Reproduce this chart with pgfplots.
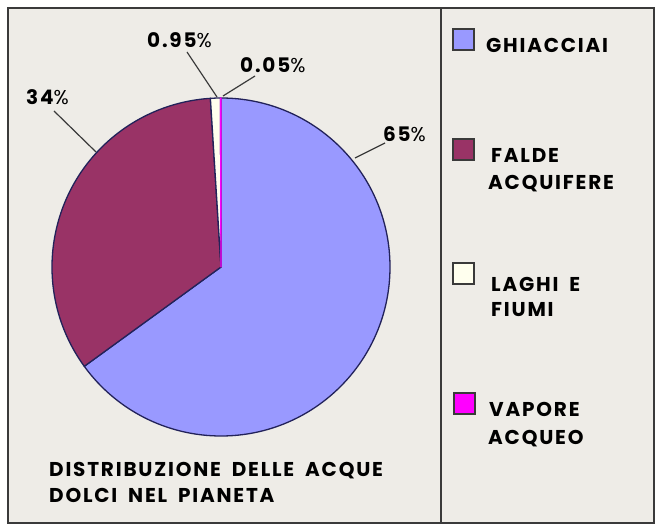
\documentclass[border=0pt]{standalone}
\usepackage{fontspec}
\setmainfont{Poppins}
\newfontfamily\lab[LetterSpace=9,WordSpace=1.8]{Poppins}
\usepackage{pgfplots}
\usepackage{pgfplotstable}
\pgfplotsset{compat=1.18}
\definecolor{bg}{HTML}{EEECE7}
\definecolor{ghi}{HTML}{9999FF}
\definecolor{falde}{HTML}{993366}
\definecolor{laghi}{HTML}{FFFFEE}
\definecolor{vapore}{HTML}{FF00FF}
\definecolor{edge}{HTML}{22225A}
\definecolor{frame}{HTML}{3A3A3A}

\pgfplotstableread{
label value col ecol
GHIACCIAI 65 ghi edge
FALDE 34 falde edge
LAGHI 0.95 laghi edge
VAPORE 0.05 vapore vapore
}\piedata
\pgfplotstablecreatecol[expr accum={\pgfmathaccuma+\thisrow{value}}{0}]{cum}\piedata

\newcommand\tx{\lab\fontsize{20}{24}\selectfont\bfseries}
\newcommand\pc{{\mdseries\%}}

\begin{document}
\begin{tikzpicture}
\begin{axis}[
  scale only axis, width=662pt, height=529pt,
  xmin=0,xmax=662,ymin=0,ymax=529, y dir=reverse,
  hide axis, clip=false,
]
\fill[white] (axis cs:0,0) rectangle (axis cs:662,529);
\filldraw[fill=bg, draw=frame, line width=2pt] (axis cs:8,8) rectangle (axis cs:654,523);
\draw[frame, line width=2pt] (axis cs:441,8) -- (axis cs:441,523);
\pgfplotsextra{
 \pgfplotstablegetrowsof{\piedata}\pgfmathtruncatemacro\lastrow{\pgfplotsretval-1}
 \foreach \i in {0,...,\lastrow}{
   \pgfplotstablegetelem{\i}{value}\of\piedata \let\v\pgfplotsretval
   \pgfplotstablegetelem{\i}{cum}\of\piedata \let\c\pgfplotsretval
   \pgfplotstablegetelem{\i}{col}\of\piedata \let\cl\pgfplotsretval
   \pgfplotstablegetelem{\i}{ecol}\of\piedata \let\ecl\pgfplotsretval
   \pgfmathsetmacro\sa{90-3.6*(\c-\v)}
   \pgfmathsetmacro\ea{90-3.6*\c}
   \filldraw[fill=\cl, draw=\ecl, line width=1.3pt, line join=round]
     (axis cs:221,267) -- ++(\sa:169pt) arc[start angle=\sa, end angle=\ea, radius=169pt] -- cycle;
 }
}
% leader lines
\draw[frame, line width=1.2pt] (axis cs:54,111) -- (axis cs:96,152);
\draw[frame, line width=1.2pt] (axis cs:385,143) -- (axis cs:355,158);
\draw[frame, line width=1.2pt] (axis cs:187,52) -- (axis cs:217,97);
\draw[frame, line width=1.2pt] (axis cs:255,76) -- (axis cs:223,96);
% labels
\node[anchor=base west, inner sep=0pt] at (axis cs:26,105) {\tx 34\pc};
\node[anchor=base west, inner sep=0pt] at (axis cs:383,142) {\tx 65\pc};
\node[anchor=base west, inner sep=0pt] at (axis cs:147,48) {\tx 0.95\pc};
\node[anchor=base west, inner sep=0pt] at (axis cs:240,73) {\tx 0.05\pc};
% legend
\filldraw[fill=ghi, draw=frame, line width=1.5pt] (axis cs:453,29) rectangle (axis cs:474,50);
\filldraw[fill=falde, draw=frame, line width=1.5pt] (axis cs:453,139) rectangle (axis cs:474,160);
\filldraw[fill=laghi, draw=frame, line width=1.5pt] (axis cs:453,263) rectangle (axis cs:474,284);
\filldraw[fill=vapore, draw=frame, line width=1.5pt] (axis cs:454,393) rectangle (axis cs:475,414);
\node[anchor=base west, inner sep=0pt] at (axis cs:486,53) {\tx GHIACCIAI};
\node[anchor=base west, inner sep=0pt] at (axis cs:491,163) {\tx FALDE};
\node[anchor=base west, inner sep=0pt] at (axis cs:488,190) {\tx ACQUIFERE};
\node[anchor=base west, inner sep=0pt] at (axis cs:491,292) {\tx LAGHI E};
\node[anchor=base west, inner sep=0pt] at (axis cs:491,317) {\tx FIUMI};
\node[anchor=base west, inner sep=0pt] at (axis cs:489,417) {\tx VAPORE};
\node[anchor=base west, inner sep=0pt] at (axis cs:488,445) {\tx ACQUEO};
% title
\node[anchor=base west, inner sep=0pt] at (axis cs:49,476) {\tx DISTRIBUZIONE DELLE ACQUE};
\node[anchor=base west, inner sep=0pt] at (axis cs:49,503) {\tx DOLCI NEL PIANETA};
\end{axis}
\end{tikzpicture}
\end{document}
